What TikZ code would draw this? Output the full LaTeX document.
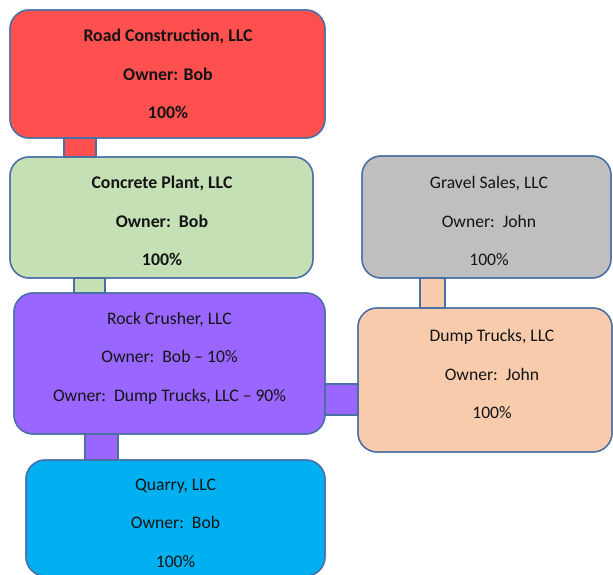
\documentclass[tikz,border=0pt]{standalone}
\usepackage{fontspec}
\setmainfont{Carlito}
\usetikzlibrary{calc}
\definecolor{bordc}{HTML}{4A6FA5}
\definecolor{cred}{HTML}{FF5050}
\definecolor{cgreen}{HTML}{C5E0B4}
\definecolor{cgray}{HTML}{BFBFBF}
\definecolor{cpurple}{HTML}{9966FF}
\definecolor{cpeach}{HTML}{F8CBAD}
\definecolor{cblue}{HTML}{00B0F0}
\definecolor{txtc}{HTML}{141414}
\tikzset{
  box/.style={draw=bordc, line width=1.3pt, rounded corners=19pt, rectangle, inner sep=0pt, outer sep=0pt},
  conn/.style={draw=bordc, line width=1.3pt},
  txt/.style={align=center, text=txtc, inner sep=0pt, font=\fontsize{17.6}{38.5}\selectfont},
  btxt/.style={align=center, text=txtc, inner sep=0pt, font=\fontsize{17.8}{38.5}\selectfont\bfseries},
}
\begin{document}
\begin{tikzpicture}[x=1pt,y=-1pt]
\useasboundingbox (0,0) rectangle (613,575);
\clip (0,0) rectangle (613,575);
% boxes
\node[box, fill=cred, minimum width=315pt, minimum height=128pt] (road) at (167.5,74) {};
\node[box, fill=cgreen, minimum width=303pt, minimum height=121pt] (concrete) at (161.5,217.5) {};
\node[box, fill=cgray, minimum width=249pt, minimum height=122pt] (gravel) at (486.5,217) {};
\node[box, fill=cpurple, minimum width=311pt, minimum height=141pt] (rock) at (169.5,363.5) {};
\node[box, fill=cpeach, minimum width=254pt, minimum height=144pt] (dump) at (485,380) {};
\node[box, fill=cblue, minimum width=299pt, minimum height=116pt] (quarry) at (175.5,518) {};
% connectors
\draw[conn, fill=cred] ($(road.south west)+(54,0)$) rectangle ($(concrete.north west)+(86,0)$);
\draw[conn, fill=cgreen] ($(concrete.south west)+(64,0)$) rectangle ($(rock.north west)+(91,0)$);
\draw[conn, fill=cpeach] ($(gravel.south west)+(58,0)$) rectangle ($(dump.north west)+(87,0)$);
\draw[conn, fill=cpurple] ($(rock.north east)+(0,91)$) rectangle ($(dump.north west)+(0,107)$);
\draw[conn, fill=cpurple] ($(rock.south west)+(71,0)$) rectangle ($(quarry.north west)+(92,0)$);
% redraw box outlines over connectors
\foreach \n in {road,concrete,gravel,rock,dump,quarry}{
  \draw[bordc, line width=1.3pt, rounded corners=19pt] (\n.north west) rectangle (\n.south east);
}
% texts
\node[btxt] (roadt) at (168,74) {Road Construction, LLC\\Owner: Bob\\100\%};
\node[btxt] (concretet) at (162,221) {Concrete Plant, LLC\\Owner:\ \ Bob\\100\%};
\node[txt] (gravelt) at (489,221) {Gravel Sales, LLC\\Owner:\ \ John\\100\%};
\node[txt] (rockt) at (169.5,358) {Rock Crusher, LLC\\Owner:\ \ Bob – 10\%\\Owner:\ \ Dump Trucks, LLC – 90\%};
\node[txt] (dumpt) at (492,374) {Dump Trucks, LLC\\Owner:\ \ John\\100\%};
\node[txt] (quarryt) at (175.5,523) {Quarry, LLC\\Owner:\ \ Bob\\100\%};
\end{tikzpicture}
\end{document}
